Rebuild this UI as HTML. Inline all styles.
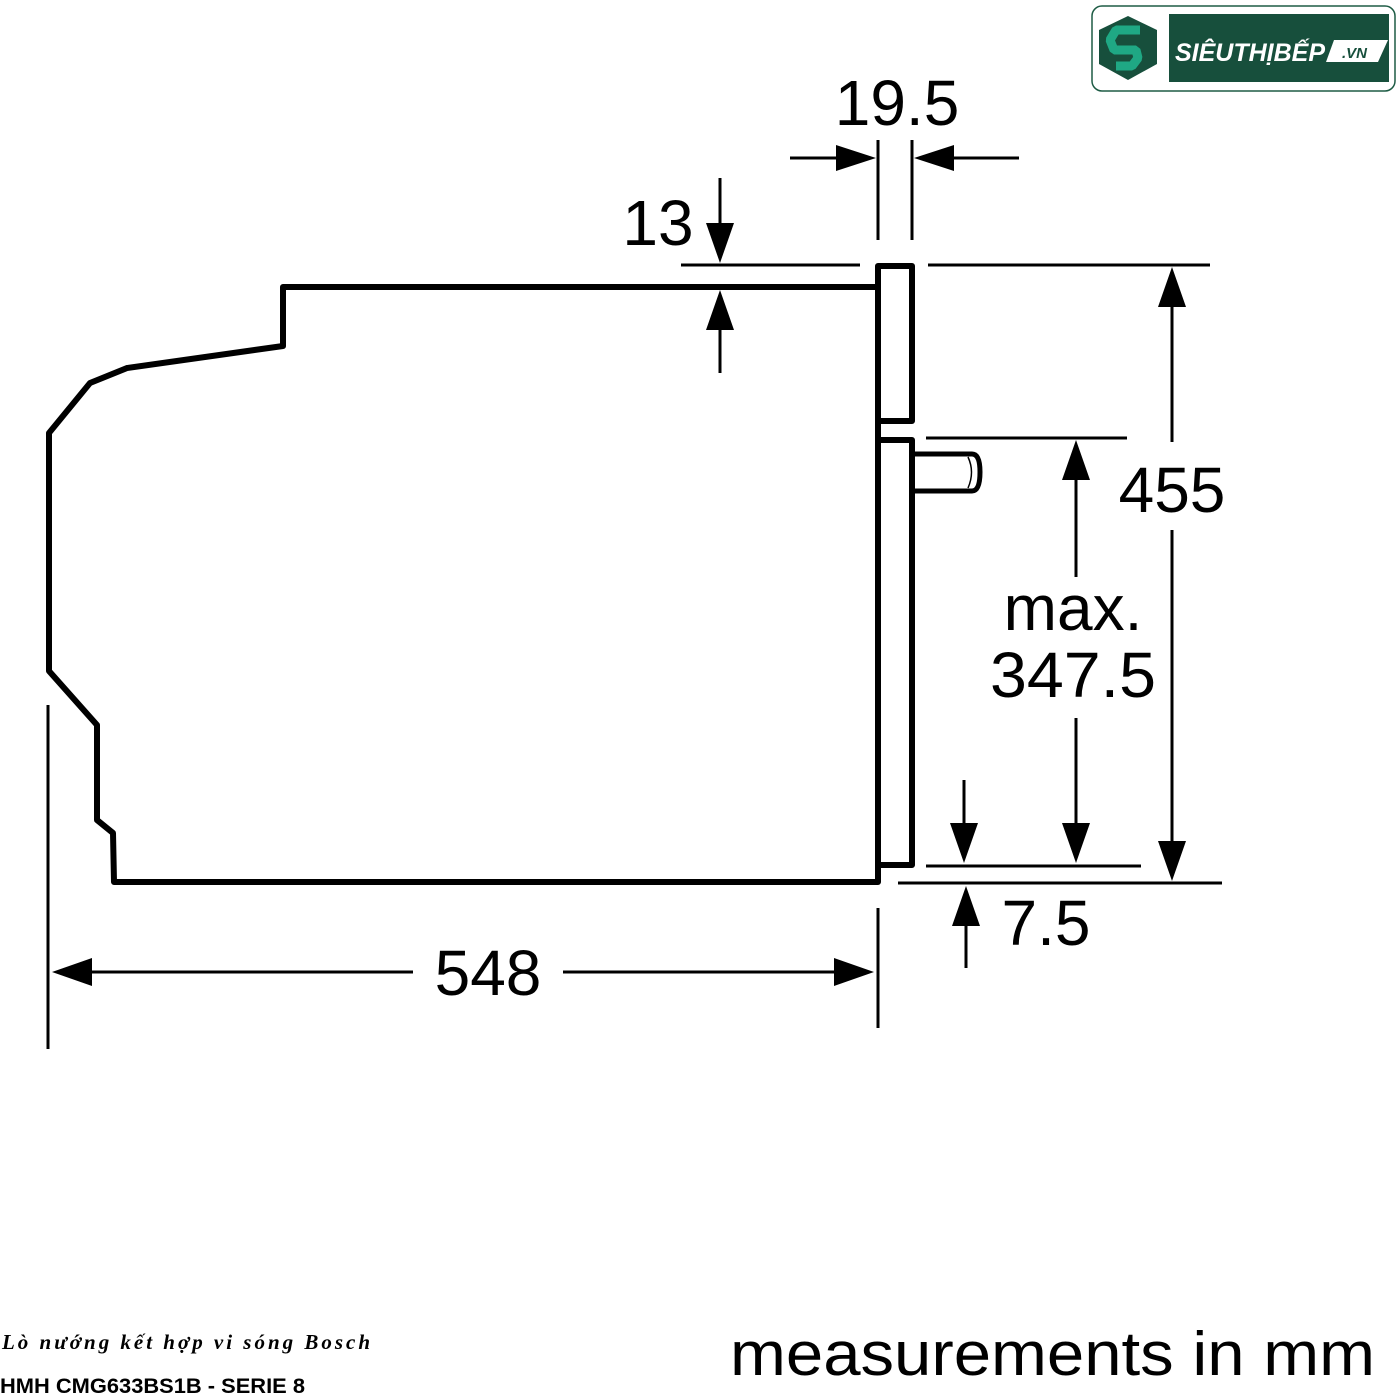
<!DOCTYPE html>
<html><head><meta charset="utf-8"><style>
html,body{margin:0;padding:0;background:#fff}
svg{display:block}
</style></head><body>
<svg width="1400" height="1400" viewBox="0 0 1400 1400" xmlns="http://www.w3.org/2000/svg">
<rect width="1400" height="1400" fill="#fff"/>
<!-- logo -->
<rect x="1092" y="6" width="303" height="85" rx="10" fill="#fff" stroke="#1e5c45" stroke-width="1.5"/>
<polygon points="1128,16 1157,30 1157,64 1128,80 1099,64 1099,30" fill="#174f3c"/>
<path d="M1140,30 L1116,30 L1110,40 L1114,50 L1136,50 L1138,58 L1132,66 L1116,66" fill="none" stroke="#1fa884" stroke-width="9" stroke-linejoin="bevel"/>
<rect x="1169" y="14" width="220" height="68" fill="#174f3c"/>
<polygon points="1334,40 1388,40 1378,62 1326,62" fill="#fff"/>
<text x="1175" y="61" font-family="Liberation Sans, sans-serif" font-style="italic" font-weight="bold" font-size="25" fill="#fff" textLength="150" lengthAdjust="spacingAndGlyphs">SIÊUTHỊBẾP</text>
<text x="1342" y="58" font-family="Liberation Sans, sans-serif" font-style="italic" font-weight="bold" font-size="15" fill="#174f3c">.VN</text>

<g fill="none" stroke="#000" stroke-linejoin="round">
<polyline stroke-width="6" points="877,287 283,287 283,346 127,368 90,383 49,433 49,671 97,725 97,820 113,833 114,882 878,882 878,865"/>
<polyline stroke-width="6" points="878,421 878,266 912,266 912,421 878,421 878,440 912,440 912,865 878,865 878,440"/>
<line stroke-width="6" x1="878" y1="418" x2="878" y2="443"/>
<path stroke-width="5" d="M912,454 L972,454 Q980,454 980,472 Q980,491 972,491 L912,491"/>
<path stroke-width="1.5" d="M968,457 Q975,472 968,488"/>
<g stroke-width="3">
<line x1="681" y1="265" x2="860" y2="265"/>
<line x1="928" y1="265" x2="1210" y2="265"/>
<line x1="926" y1="438" x2="1127" y2="438"/>
<line x1="926" y1="866" x2="1141" y2="866"/>
<line x1="898" y1="883" x2="1222" y2="883"/>
<line x1="48" y1="705" x2="48" y2="1049"/>
<line x1="878" y1="908" x2="878" y2="1028"/>
<line x1="878" y1="140" x2="878" y2="240"/>
<line x1="912" y1="140" x2="912" y2="240"/>
<line x1="790" y1="158" x2="840" y2="158"/>
<line x1="950" y1="158" x2="1019" y2="158"/>
<line x1="720" y1="178" x2="720" y2="225"/>
<line x1="720" y1="325" x2="720" y2="373"/>
<line x1="1172" y1="300" x2="1172" y2="442"/>
<line x1="1172" y1="530" x2="1172" y2="845"/>
<line x1="1076" y1="476" x2="1076" y2="577"/>
<line x1="1076" y1="718" x2="1076" y2="826"/>
<line x1="964" y1="780" x2="964" y2="828"/>
<line x1="966" y1="920" x2="966" y2="968"/>
<line x1="90" y1="972" x2="413" y2="972"/>
<line x1="563" y1="972" x2="838" y2="972"/>
</g>
</g>
<g fill="#000">
<polygon points="876,158 836,145 836,171"/>
<polygon points="914,158 954,145 954,171"/>
<polygon points="720,263 706,223 734,223"/>
<polygon points="720,290 706,330 734,330"/>
<polygon points="1172,267 1158,307 1186,307"/>
<polygon points="1172,881 1158,841 1186,841"/>
<polygon points="1076,440 1062,480 1090,480"/>
<polygon points="1076,863 1062,823 1090,823"/>
<polygon points="964,863 950,823 978,823"/>
<polygon points="966,886 952,926 980,926"/>
<polygon points="52,972 92,958 92,986"/>
<polygon points="874,972 834,958 834,986"/>
</g>
<g font-family="Liberation Sans, sans-serif" font-size="64" fill="#000">
<text x="897" y="125" text-anchor="middle">19.5</text>
<text x="658" y="245" text-anchor="middle">13</text>
<text x="1172" y="512" text-anchor="middle">455</text>
<text x="1073" y="630" text-anchor="middle">max.</text>
<text x="1073" y="697" text-anchor="middle" textLength="166" lengthAdjust="spacingAndGlyphs">347.5</text>
<text x="1046" y="945" text-anchor="middle">7.5</text>
<text x="488" y="995" text-anchor="middle">548</text>
<text x="730" y="1375" font-size="62" textLength="645" lengthAdjust="spacingAndGlyphs">measurements in mm</text>
</g>
<text x="2" y="1349" font-family="Liberation Serif, serif" font-style="italic" font-weight="bold" font-size="21" fill="#000" textLength="368" lengthAdjust="spacing">Lò nướng kết hợp vi sóng Bosch</text>
<text x="0" y="1393" font-family="Liberation Sans, sans-serif" font-weight="bold" font-size="21" fill="#000" textLength="305" lengthAdjust="spacingAndGlyphs">HMH CMG633BS1B - SERIE 8</text>
</svg>
</body></html>
